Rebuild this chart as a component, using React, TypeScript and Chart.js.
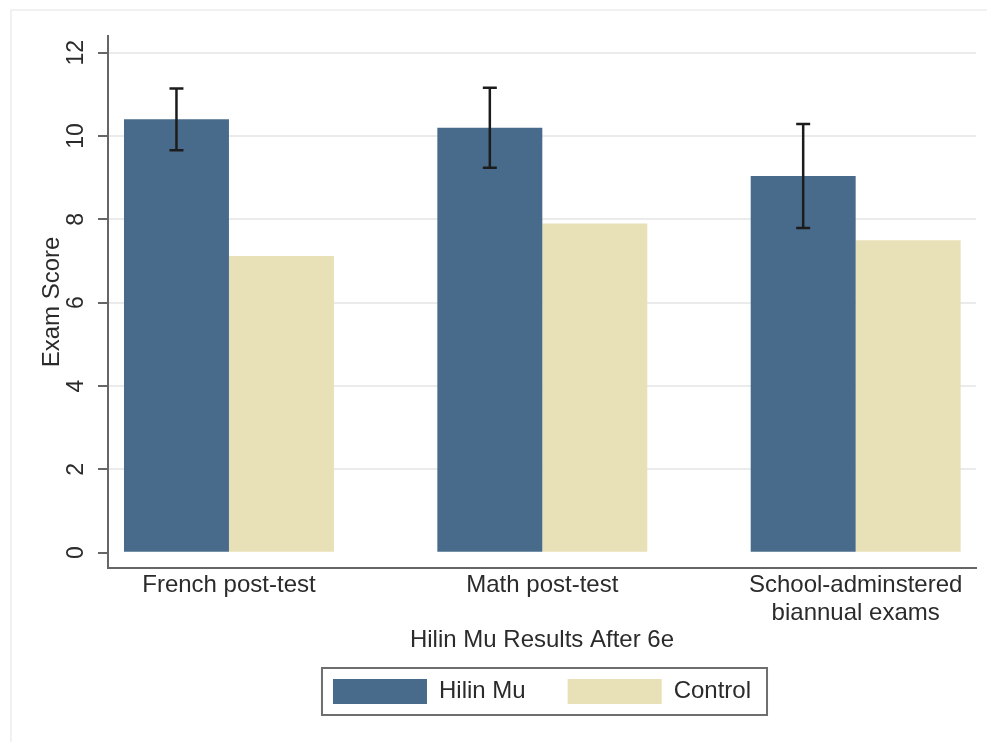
import { useEffect, useRef } from "react";
import { Chart, registerables } from "chart.js";

Chart.register(...registerables);

// Category labels (multi-line where the label wraps)
const categories: (string | string[])[] = [
  "French post-test",
  "Math post-test",
  ["School-adminstered", "biannual exams"],
];

// Mean exam scores
const hilinMu = [10.4, 10.2, 9.04];
const control = [7.12, 7.9, 7.5];

// Confidence interval bounds for the Hilin Mu group
const hilinLow = [9.66, 9.24, 7.79];
const hilinHigh = [11.14, 11.16, 10.29];

const yTicks = [0, 2, 4, 6, 8, 10, 12];
const seriesNames = ["Hilin Mu", "Control"];
const xTitle = "Hilin Mu Results After 6e";
const yTitle = "Exam Score";

const FONT = '"Liberation Sans", Arial, Helvetica, sans-serif';
const NAVY = "#486b8b";
const SAND = "#e8e0b6";
const AXIS = "#666666";
const TEXT = "#2b2b2b";

// Faint outer frame around the graph region
const framePlugin = {
  id: "outerFrame",
  beforeDraw(chart: any) {
    const { ctx } = chart;
    ctx.save();
    ctx.fillStyle = "#ffffff";
    ctx.fillRect(0, 0, chart.width, chart.height);
    ctx.strokeStyle = "#ededed";
    ctx.lineWidth = 1.5;
    ctx.strokeRect(11, 10, chart.width + 20, chart.height + 20);
    ctx.restore();
  },
};

// Capped error bars on top of the Hilin Mu bars
const errorBarPlugin = {
  id: "errorBars",
  afterDatasetsDraw(chart: any) {
    const { ctx } = chart;
    const meta = chart.getDatasetMeta(0);
    const yScale = chart.scales.y;
    ctx.save();
    ctx.strokeStyle = "#1c1c1c";
    ctx.lineWidth = 2.5;
    meta.data.forEach((bar: any, i: number) => {
      const x = bar.x;
      const yHi = yScale.getPixelForValue(hilinHigh[i]);
      const yLo = yScale.getPixelForValue(hilinLow[i]);
      const cap = 7;
      ctx.beginPath();
      ctx.moveTo(x, yHi);
      ctx.lineTo(x, yLo);
      ctx.moveTo(x - cap, yHi);
      ctx.lineTo(x + cap, yHi);
      ctx.moveTo(x - cap, yLo);
      ctx.lineTo(x + cap, yLo);
      ctx.stroke();
    });
    ctx.restore();
  },
};

// Box drawn around the legend entries
const legendBoxPlugin = {
  id: "legendBox",
  afterDraw(chart: any) {
    const lg = chart.legend;
    if (!lg || !lg.legendHitBoxes || !lg.legendHitBoxes.length) return;
    const boxes = lg.legendHitBoxes;
    const first = boxes[0];
    const last = boxes[boxes.length - 1];
    const left = first.left - 11;
    const top = first.top - 11;
    const right = last.left + last.width + 16;
    const bottom = first.top + first.height + 11;
    const { ctx } = chart;
    ctx.save();
    ctx.strokeStyle = "#6e6e6e";
    ctx.lineWidth = 2;
    ctx.strokeRect(left, top, right - left, bottom - top);
    ctx.restore();
  },
};

export default function App() {
  const canvasRef = useRef<HTMLCanvasElement | null>(null);

  useEffect(() => {
    if (!canvasRef.current) return;
    const chart = new Chart(canvasRef.current, {
      type: "bar",
      data: {
        datasets: [
          {
            label: seriesNames[0],
            data: hilinMu.map((v, i) => ({ x: i, y: v })),
            backgroundColor: NAVY,
            borderWidth: 0,
          },
          {
            label: seriesNames[1],
            data: control.map((v, i) => ({ x: i, y: v })),
            backgroundColor: SAND,
            borderWidth: 0,
          },
        ],
      },
      options: {
        animation: false,
        responsive: true,
        maintainAspectRatio: false,
        events: [],
        layout: { padding: { top: 36, right: 11, bottom: 28, left: 0 } },
        datasets: {
          bar: { categoryPercentage: 0.67, barPercentage: 1 },
        },
        scales: {
          x: {
            type: "linear",
            min: -0.386,
            max: 2.384,
            offset: false,
            afterBuildTicks: (s: any) => {
              s.ticks = categories.map((_, i) => ({ value: i }));
            },
            ticks: {
              autoSkip: false,
              minRotation: 0,
              maxRotation: 0,
              padding: 4,
              color: TEXT,
              font: { family: FONT, size: 24, lineHeight: 1.15 },
              callback: (v: any) => categories[v as number],
            },
            grid: { display: true, drawOnChartArea: false, drawTicks: false, offset: false },
            border: { display: true, color: AXIS, width: 2 },
            title: {
              display: true,
              text: xTitle,
              color: TEXT,
              font: { family: FONT, size: 24 },
              padding: { top: -5.6, bottom: -17.4 },
            },
          },
          y: {
            type: "linear",
            min: -0.367,
            max: 12.4,
            afterBuildTicks: (s: any) => {
              s.ticks = yTicks.map((v) => ({ value: v }));
            },
            afterFit: (s: any) => {
              s.width = 108;
            },
            ticks: {
              autoSkip: false,
              minRotation: 90,
              maxRotation: 90,
              crossAlign: "center",
              padding: 9,
              color: TEXT,
              font: { family: FONT, size: 23 },
            },
            grid: {
              color: (c: any) => (c.tick && c.tick.value === 0 ? "rgba(0,0,0,0)" : "#ebebeb"),
              lineWidth: 2,
              drawTicks: true,
              tickLength: 10,
              tickColor: AXIS,
              tickWidth: 2,
            },
            border: { display: true, color: AXIS, width: 2 },
            title: {
              display: true,
              text: yTitle,
              color: TEXT,
              font: { family: FONT, size: 24 },
              padding: { top: 37.6, bottom: 0 },
            },
          },
        },
        plugins: {
          legend: {
            display: true,
            position: "bottom",
            fullSize: false,
            labels: {
              boxWidth: 94,
              boxHeight: 25,
              padding: 42,
              color: TEXT,
              font: { family: FONT, size: 24 },
            },
          },
          tooltip: { enabled: false },
        },
      },
      plugins: [framePlugin, errorBarPlugin, legendBoxPlugin],
    } as any);
    return () => chart.destroy();
  }, []);

  return (
    <div style={{ position: "absolute", left: 0, top: 0, width: 987, height: 742 }}>
      <canvas ref={canvasRef} />
    </div>
  );
}
